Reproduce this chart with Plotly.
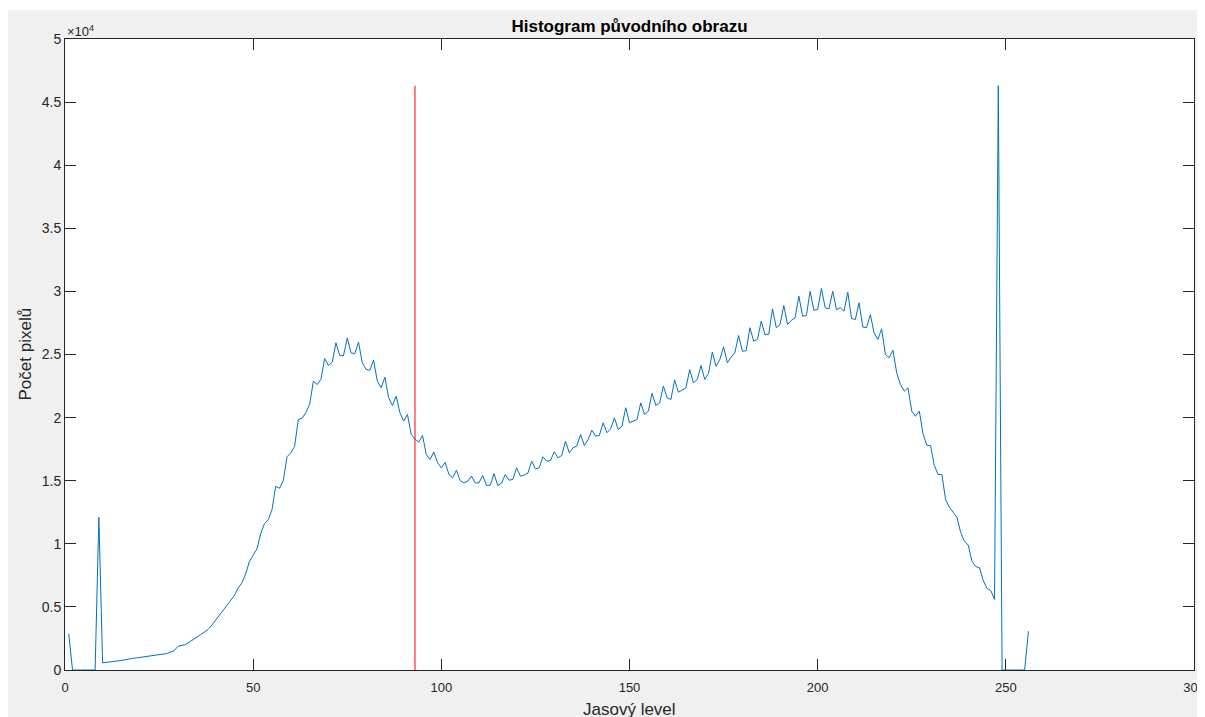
import plotly.graph_objects as go

# Brightness levels (bins) and pixel counts
levels = list(range(1, 257))
counts = [
    2870, 0, 0, 0, 0, 0, 0, 0, 12100, 570,
    600, 630, 650, 700, 760, 820, 890, 920, 960, 1000,
    1040, 1080, 1110, 1150, 1180, 1220, 1300, 1420, 1520, 1880,
    1950, 2020, 2200, 2420, 2600, 2800, 3000, 3210, 3550, 3950,
    4350, 4750, 5150, 5500, 5900, 6500, 6900, 7600, 8600, 9100,
    9600, 10800, 11600, 11900, 12700, 14560, 14400, 15000, 16900, 17200,
    17700, 19850, 19950, 20400, 21040, 22880, 22620, 23020, 24680, 24130,
    24390, 25930, 24920, 24900, 26320, 25140, 25060, 25980, 24340, 23810,
    23760, 24550, 22880, 22360, 23200, 21570, 20960, 21700, 20380, 19720,
    20250, 18660, 18300, 18050, 18580, 17080, 16680, 17280, 16420, 16020,
    16450, 15500, 15230, 15830, 15000, 14830, 14950, 15360, 14830, 14830,
    15410, 14620, 14650, 15550, 14620, 14800, 15490, 15040, 15100, 16020,
    15360, 15450, 15600, 16550, 15940, 16020, 16890, 16550, 16600, 17290,
    16810, 17000, 18130, 17210, 17610, 17750, 18660, 17790, 18260, 19000,
    18530, 18600, 19590, 18800, 19110, 19980, 19060, 19320, 20780, 19590,
    19700, 19850, 21170, 20250, 20510, 21930, 20970, 21150, 22490, 21570,
    21430, 22990, 22010, 22200, 22360, 23810, 22760, 23020, 24130, 23020,
    23500, 25180, 24070, 24600, 25610, 24340, 24800, 25140, 26510, 25260,
    25300, 27120, 26050, 26190, 27640, 26580, 26600, 28620, 27120, 27380,
    28880, 27380, 27700, 27900, 29620, 28030, 28100, 30010, 28510, 28560,
    30230, 28700, 28620, 30010, 28560, 28700, 28430, 29940, 27850, 27770,
    29100, 27180, 27120, 28170, 26700, 26190, 27040, 25000, 24740, 25340,
    23550, 22620, 22090, 22360, 20510, 20110, 20510, 18730, 17800, 17790,
    16200, 15490, 15490, 13510, 12900, 12500, 12100, 10900, 10200, 9900,
    8600, 8200, 8100, 7100, 6450, 6300, 5590, 46300, 0, 0,
    0, 0, 0, 0, 0, 3070,
]
threshold = 93

x_ticks = [0, 50, 100, 150, 200, 250, 300]
y_ticks = [0, 5000, 10000, 15000, 20000, 25000, 30000, 35000, 40000, 45000, 50000]
y_tick_labels = ["0", "0.5", "1", "1.5", "2", "2.5", "3", "3.5", "4", "4.5", "5"]

title_text = "Histogram původního obrazu"
x_label = "Jasový level"
y_label = "Počet pixelů"

# the page body adds an 8px margin; the figure fills the rest of the window
W, H = 1197, 709
ML, MR, MT, MB = 57, 11, 31, 47
PW, PH = W - ML - MR, H - MT - MB

FONT = "Liberation Sans, Arial, Helvetica, sans-serif"
AX = "#262626"

fig = go.Figure()
fig.add_trace(go.Scatter(x=levels, y=counts, mode="lines",
                         line=dict(color="#0072BD", width=1), showlegend=False))
fig.add_trace(go.Scatter(x=[threshold, threshold], y=[0, max(counts)], mode="lines",
                         line=dict(color="#FF0000", width=1), showlegend=False))

axis_common = dict(showline=True, linecolor=AX, linewidth=1, mirror="ticks",
                   ticks="inside", ticklen=11, tickcolor=AX, tickwidth=1,
                   showgrid=False, zeroline=False, ticklabeloverflow="allow",
                   automargin=False)

fig.update_layout(
    width=W, height=H,
    margin=dict(l=ML, r=MR, t=MT, b=MB, pad=0, autoexpand=False),
    paper_bgcolor="#F0F0F0", plot_bgcolor="#FFFFFF",
    xaxis=dict(range=[0, 300], tickvals=x_ticks, ticklabelstandoff=5,
               tickfont=dict(family=FONT, size=13, color=AX), **axis_common),
    yaxis=dict(range=[0, 50000], tickvals=y_ticks, ticktext=y_tick_labels,
               tickfont=dict(family=FONT, size=14, color=AX), **axis_common),
    title=dict(text="<b>" + title_text + "</b>", x=0.5, xref="paper",
               y=1 - 18 / H, yref="container", yanchor="middle", xanchor="center",
               font=dict(family=FONT, size=17, color="#000000")),
    shapes=[
        dict(type="rect", xref="paper", yref="paper", layer="below",
             x0=-ML / PW - 0.01, x1=1 + MR / PW + 0.01,
             y0=1 + (MT - 2) / PH, y1=1 + MT / PH + 0.01,
             fillcolor="#FFFFFF", line=dict(width=0)),
    ],
    annotations=[
        dict(text="×10<sup>4</sup>", xref="paper", yref="paper", x=0, y=1,
             xanchor="left", yanchor="bottom", showarrow=False,
             font=dict(family=FONT, size=13, color=AX), yshift=-2),
        dict(text=x_label, xref="paper", yref="paper", x=0.5, y=(670.5 - 710) / PH,
             xanchor="center", yanchor="middle", showarrow=False,
             font=dict(family=FONT, size=17, color=AX)),
        dict(text=y_label, xref="paper", yref="paper", x=(17 - ML) / PW, y=0.5,
             xanchor="center", yanchor="middle", textangle=-90, showarrow=False,
             font=dict(family=FONT, size=17, color=AX)),
    ],
)

fig.write_html("out.html")
